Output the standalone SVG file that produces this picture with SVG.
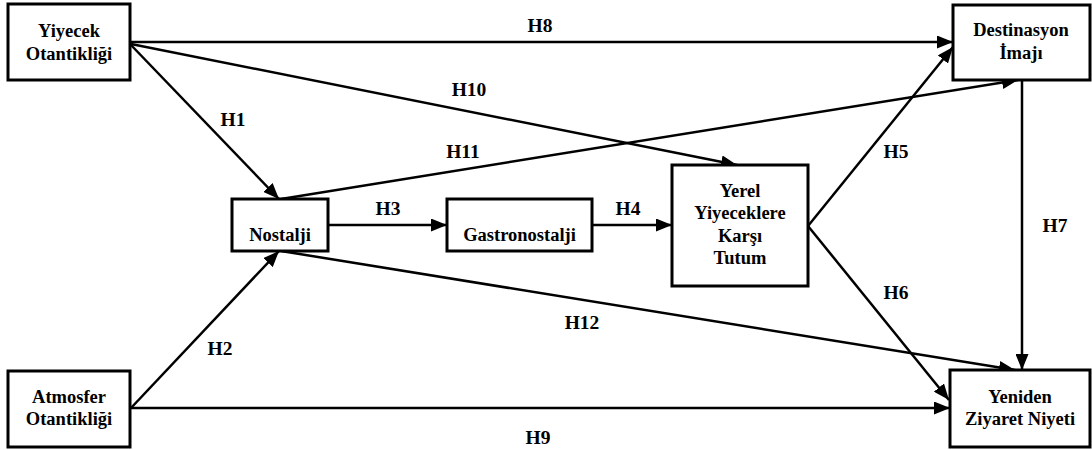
<svg xmlns="http://www.w3.org/2000/svg" width="1092" height="450" viewBox="0 0 1092 450">
  <defs>
    <marker id="arrow" markerUnits="userSpaceOnUse" markerWidth="17" markerHeight="13" refX="16" refY="6.5" orient="auto">
      <path d="M0,0 L16,6.5 L0,13 z" fill="#000"/>
    </marker>
  </defs>
  <style>
    .box { fill: #fff; stroke: #000; stroke-width: 3; }
    .txt { font-size: 18.5px; fill: #000; text-anchor: middle; }
    .lbl { font-size: 19.5px; fill: #000; text-anchor: middle; }
    .edge { stroke: #000; stroke-width: 2.5; fill: none; marker-end: url(#arrow); }
  </style>
  <rect width="1092" height="450" fill="#fff"/>

  <g font-family="Liberation Serif, Times New Roman, Times, serif" font-weight="bold">
  <!-- connectors -->
  <g id="connectors">
    <line class="edge" x1="131" y1="42" x2="953" y2="42"/>
    <line class="edge" x1="131" y1="44" x2="737" y2="165"/>
    <line class="edge" x1="131" y1="45" x2="279" y2="199"/>
    <line class="edge" x1="281" y1="199" x2="1018" y2="80"/>
    <line class="edge" x1="328" y1="225" x2="447" y2="225"/>
    <line class="edge" x1="592" y1="225" x2="672" y2="225"/>
    <line class="edge" x1="808" y1="226" x2="953" y2="47"/>
    <line class="edge" x1="808" y1="226" x2="949" y2="400"/>
    <line class="edge" x1="1022" y1="80" x2="1022" y2="370"/>
    <line class="edge" x1="281" y1="251" x2="1015" y2="370"/>
    <line class="edge" x1="131" y1="408" x2="279" y2="251"/>
    <line class="edge" x1="131" y1="408" x2="950" y2="408"/>

    <text class="lbl" x="540" y="32">H8</text>
    <text class="lbl" x="469" y="96">H10</text>
    <text class="lbl" x="233" y="126">H1</text>
    <text class="lbl" x="463" y="158">H11</text>
    <text class="lbl" x="388" y="215">H3</text>
    <text class="lbl" x="628" y="215">H4</text>
    <text class="lbl" x="896" y="158">H5</text>
    <text class="lbl" x="1055" y="232">H7</text>
    <text class="lbl" x="896" y="299">H6</text>
    <text class="lbl" x="582" y="329">H12</text>
    <text class="lbl" x="220" y="355">H2</text>
    <text class="lbl" x="538" y="444">H9</text>
  </g>

  <!-- nodes -->
  <g id="yiyecek-otantikligi">
    <rect class="box" x="8" y="4" width="122" height="76"/>
    <text class="txt" x="69" y="37">Yiyecek</text>
    <text class="txt" x="69" y="60">Otantikliği</text>
  </g>
  <g id="destinasyon-imaji">
    <rect class="box" x="953" y="5" width="137" height="75"/>
    <text class="txt" x="1021" y="36">Destinasyon</text>
    <text class="txt" x="1021" y="59">İmajı</text>
  </g>
  <g id="nostalji">
    <rect class="box" x="232" y="199" width="96" height="52"/>
    <text class="txt" x="280" y="241">Nostalji</text>
  </g>
  <g id="gastronostalji">
    <rect class="box" x="447" y="199" width="145" height="52"/>
    <text class="txt" x="519.5" y="241">Gastronostalji</text>
  </g>
  <g id="yerel-yiyeceklere-karsi-tutum">
    <rect class="box" x="672" y="165" width="136" height="121"/>
    <text class="txt" x="740" y="197">Yerel</text>
    <text class="txt" x="740" y="219">Yiyeceklere</text>
    <text class="txt" x="740" y="242">Karşı</text>
    <text class="txt" x="740" y="264">Tutum</text>
  </g>
  <g id="atmosfer-otantikligi">
    <rect class="box" x="8" y="371" width="122" height="76"/>
    <text class="txt" x="69" y="403">Atmosfer</text>
    <text class="txt" x="69" y="425">Otantikliği</text>
  </g>
  <g id="yeniden-ziyaret-niyeti">
    <rect class="box" x="950" y="370" width="140" height="77"/>
    <text class="txt" x="1020" y="403">Yeniden</text>
    <text class="txt" x="1020" y="425">Ziyaret Niyeti</text>
  </g>
  </g>
</svg>
